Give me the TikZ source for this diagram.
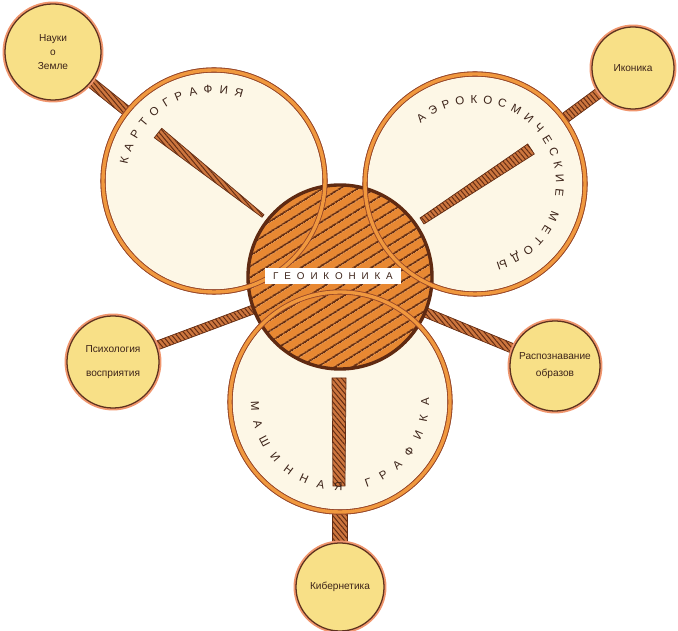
\documentclass[tikz,border=0pt]{standalone}
\usepackage{fontspec}
\setmainfont{Liberation Sans}
\newfontfamily\geofont[LetterSpace=60]{Liberation Sans}
\usepackage{tikz}
\usetikzlibrary{calc,patterns.meta,decorations.text}
\definecolor{creamfill}{RGB}{253,247,230}
\definecolor{ringorange}{RGB}{240,152,62}
\definecolor{ringbrown}{RGB}{150,70,40}
\definecolor{satyellow}{RGB}{248,224,135}
\definecolor{satedge}{RGB}{95,50,30}
\definecolor{satglow}{RGB}{240,150,110}
\definecolor{geofill}{RGB}{232,136,50}
\definecolor{geohatch}{RGB}{100,45,18}
\definecolor{geoedge}{RGB}{95,42,18}
\definecolor{barfill}{RGB}{205,118,62}
\definecolor{bardark}{RGB}{100,45,20}
\definecolor{arctext}{RGB}{60,35,25}
\newcommand{\arcfont}{\fontsize{8.2}{9}\selectfont}
\newcommand{\linkbar}[4]{%
  \path[barstyle] ($(#1)!#3!90:(#2)$) -- ($(#2)!#4!-90:(#1)$)
    -- ($(#2)!#4!90:(#1)$) -- ($(#1)!#3!-90:(#2)$) -- cycle;}
\pgfdeclarelayer{bg}
\pgfsetlayers{bg,main}
\tikzset{
  bigcirc/.style={circle, inner sep=0pt, fill=creamfill, ringline},
  ringline/.style={draw=ringbrown, line width=0.6pt, double=ringorange,
                   double distance=2.4pt},
  satcirc/.style={circle, inner sep=0pt, fill=satyellow, draw=satedge,
                  line width=0.9pt, preaction={draw=satglow, line width=3.5pt},
                  align=center, text=arctext, font=\fontsize{7.2}{8}\selectfont},
  geocirc/.style={circle, inner sep=0pt, draw=geoedge, line width=2.4pt,
                  preaction={fill=geofill},
                  pattern={Lines[angle=32, distance=6.5pt, line width=1.5pt]},
                  pattern color=geohatch},
  barstyle/.style={draw=bardark, line width=0.5pt, preaction={fill=barfill},
                   pattern={Lines[angle=-50, distance=2.6pt, line width=0.7pt]},
                   pattern color=bardark},
  geolabel/.style={fill=white, inner sep=1pt, minimum width=3.4cm,
                   minimum height=0.38cm, text=arctext,
                   font=\geofont\fontsize{7}{8}\selectfont},
  arctextstyle/.style={decorate, decoration={text along path, text={#1},
                       text align=fit to path, text color=arctext}}
}
\begin{document}
\begin{tikzpicture}[x=0.025cm, y=0.025cm]
  \useasboundingbox (0,0) rectangle (678,631);

  % three fields
  \node[bigcirc, minimum size=5.55cm] (karto) at (214,450) {};
  \node[bigcirc, minimum size=5.5cm] (aero) at (475,447) {};
  \node[bigcirc, minimum size=5.5cm] (mash) at (340,229) {};

  % wedges inside the fields
  \coordinate (kartoW) at (158,498);
  \coordinate (kartoT) at (263,415);
  \coordinate (aeroW) at (531,482);
  \coordinate (aeroT) at (422,410);
  \coordinate (mashW) at (339,253);
  \coordinate (mashT) at (339,145);
  \linkbar{kartoW}{kartoT}{0.15cm}{0.04cm}
  \linkbar{aeroW}{aeroT}{0.15cm}{0.09cm}
  \linkbar{mashW}{mashT}{0.175cm}{0.15cm}

  % centre
  \node[geocirc, minimum size=4.6cm] (geo) at (340,354) {};
  \draw[ringline] (karto.center) circle[radius=111];
  \draw[ringline] (aero.center) circle[radius=110];
  \draw[ringline] (mash.center) circle[radius=110];
  \node[geolabel] (geotext) at (333,355) {ГЕОИКОНИКА};

  % lettering round the fields
  \path[arctextstyle={|\arcfont|КАРТОГРАФИЯ}]
    ($(karto.center)+(169.5:88)$) arc[start angle=169.5, end angle=71.5, radius=88];
  \path[arctextstyle={|\arcfont|АЭРОКОСМИЧЕСКИЕ МЕТОДЫ}]
    ($(aero.center)+(132:81)$) arc[start angle=132, end angle=-75, radius=81];
  \path[arctextstyle={|\arcfont|МАШИННАЯ ГРАФИКА}]
    ($(mash.center)+(179.5:89)$) arc[start angle=179.5, end angle=362.5, radius=89];

  % neighbouring sciences
  \node[satcirc, minimum size=2.4cm] (nauki) at (53,579) {Науки\\[2pt]о\\[2pt]Земле};
  \node[satcirc, minimum size=2.05cm] (ikon) at (633,563) {Иконика};
  \node[satcirc, minimum size=2.3cm] (psych) at (113,269) {Психология\\[9pt]восприятия};
  \node[satcirc, minimum size=2.25cm] (raspo) at (555,265) {Распознавание\\[4pt]образов};
  \node[satcirc, minimum size=2.2cm] (kiber) at (340,44) {Кибернетика};

  \begin{pgfonlayer}{bg}
    \linkbar{nauki}{karto}{0.13cm}{0.13cm}
    \linkbar{ikon}{aero}{0.13cm}{0.13cm}
    \linkbar{psych}{geo}{0.11cm}{0.11cm}
    \linkbar{raspo}{geo}{0.12cm}{0.12cm}
    \linkbar{kiber}{mash}{0.18cm}{0.18cm}
  \end{pgfonlayer}
\end{tikzpicture}
\end{document}
